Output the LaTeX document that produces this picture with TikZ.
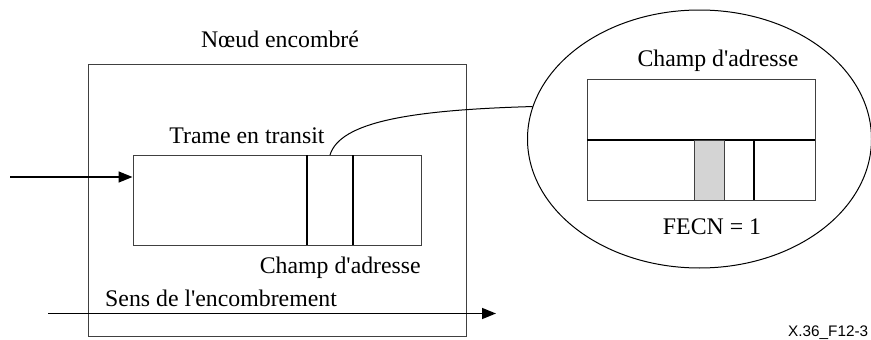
\documentclass[tikz,border=0pt]{standalone}
\usepackage{fontspec}
\setmainfont{Liberation Serif}
\newfontfamily\labelsans{Liberation Sans}
\usetikzlibrary{arrows.meta,shapes.geometric}
\begin{document}
\begin{tikzpicture}[x=1pt,y=-1pt,
  thinline/.style={draw=black!75,line width=1pt},
  divider/.style={draw=black,line width=1.5pt},
  flow/.style={draw=black,line width=1.5pt,-{Triangle[length=14pt,width=11pt]}},
  txt/.style={font=\fontsize{23.8}{28}\selectfont,inner sep=0pt,anchor=base},
  ref/.style={font=\labelsans\fontsize{15.3}{18}\selectfont,inner sep=0pt,anchor=base west}]
\useasboundingbox (0,0) rectangle (871,340);
% congested node
\node[thinline,rectangle,inner sep=0pt,minimum width=378pt,minimum height=272pt] (node) at (277,200) {};
\node[txt] (nodelbl) at (280,47) {Nœud encombré};
% frame in transit
\node[thinline,rectangle,inner sep=0pt,minimum width=288pt,minimum height=90pt] (frame) at (277,200) {};
\coordinate (d1t) at (307,155); \coordinate (d1b) at (307,245);
\coordinate (d2t) at (353,155); \coordinate (d2b) at (353,245);
\draw[divider] (d1t) -- (d1b);
\draw[divider] (d2t) -- (d2b);
\node[txt] (framelbl) at (247,143) {Trame en transit};
\node[txt,anchor=base east] (addrlbl) at (421,273) {Champ d\textquotesingle adresse};
% input arrow
\coordinate (inp) at (10,177);
\draw[flow] (inp) -- (frame.west |- inp);
% congestion direction
\coordinate (cs) at (48,313.5);
\coordinate (ce) at (496,313.5);
\draw[flow] (cs) -- (ce);
\node[txt,anchor=base west] (senslbl) at (105,306) {Sens de l\textquotesingle encombrement};
% magnified address field
\node[draw=black,line width=1pt,ellipse,inner sep=0pt,minimum width=344pt,minimum height=258pt] (zoom) at (699.5,139) {};
\coordinate (cstart) at (330,155);
\draw[line width=1pt] (cstart) .. controls (340,122) and (410,110) .. (zoom.169.6);
\node[thinline,rectangle,inner sep=0pt,minimum width=228pt,minimum height=121pt] (field) at (701,139.5) {};
\coordinate (hl) at (587,140); \coordinate (hr) at (815,140);
\draw[divider] (hl) -- (hr);
\node[draw=black!75,line width=1pt,fill=black!17,rectangle,inner sep=0pt,minimum width=30pt,minimum height=60pt] (fecn) at (709,170) {};
\coordinate (v1t) at (754,140); \coordinate (v1b) at (754,200);
\draw[divider] (v1t) -- (v1b);
\node[txt] (zoomlbl) at (718,66) {Champ d\textquotesingle adresse};
\node[txt] (fecnlbl) at (712,234) {FECN = 1};
% reference
\node[ref] (figref) at (788,336) {X.36\_F12-3};
\end{tikzpicture}
\end{document}
